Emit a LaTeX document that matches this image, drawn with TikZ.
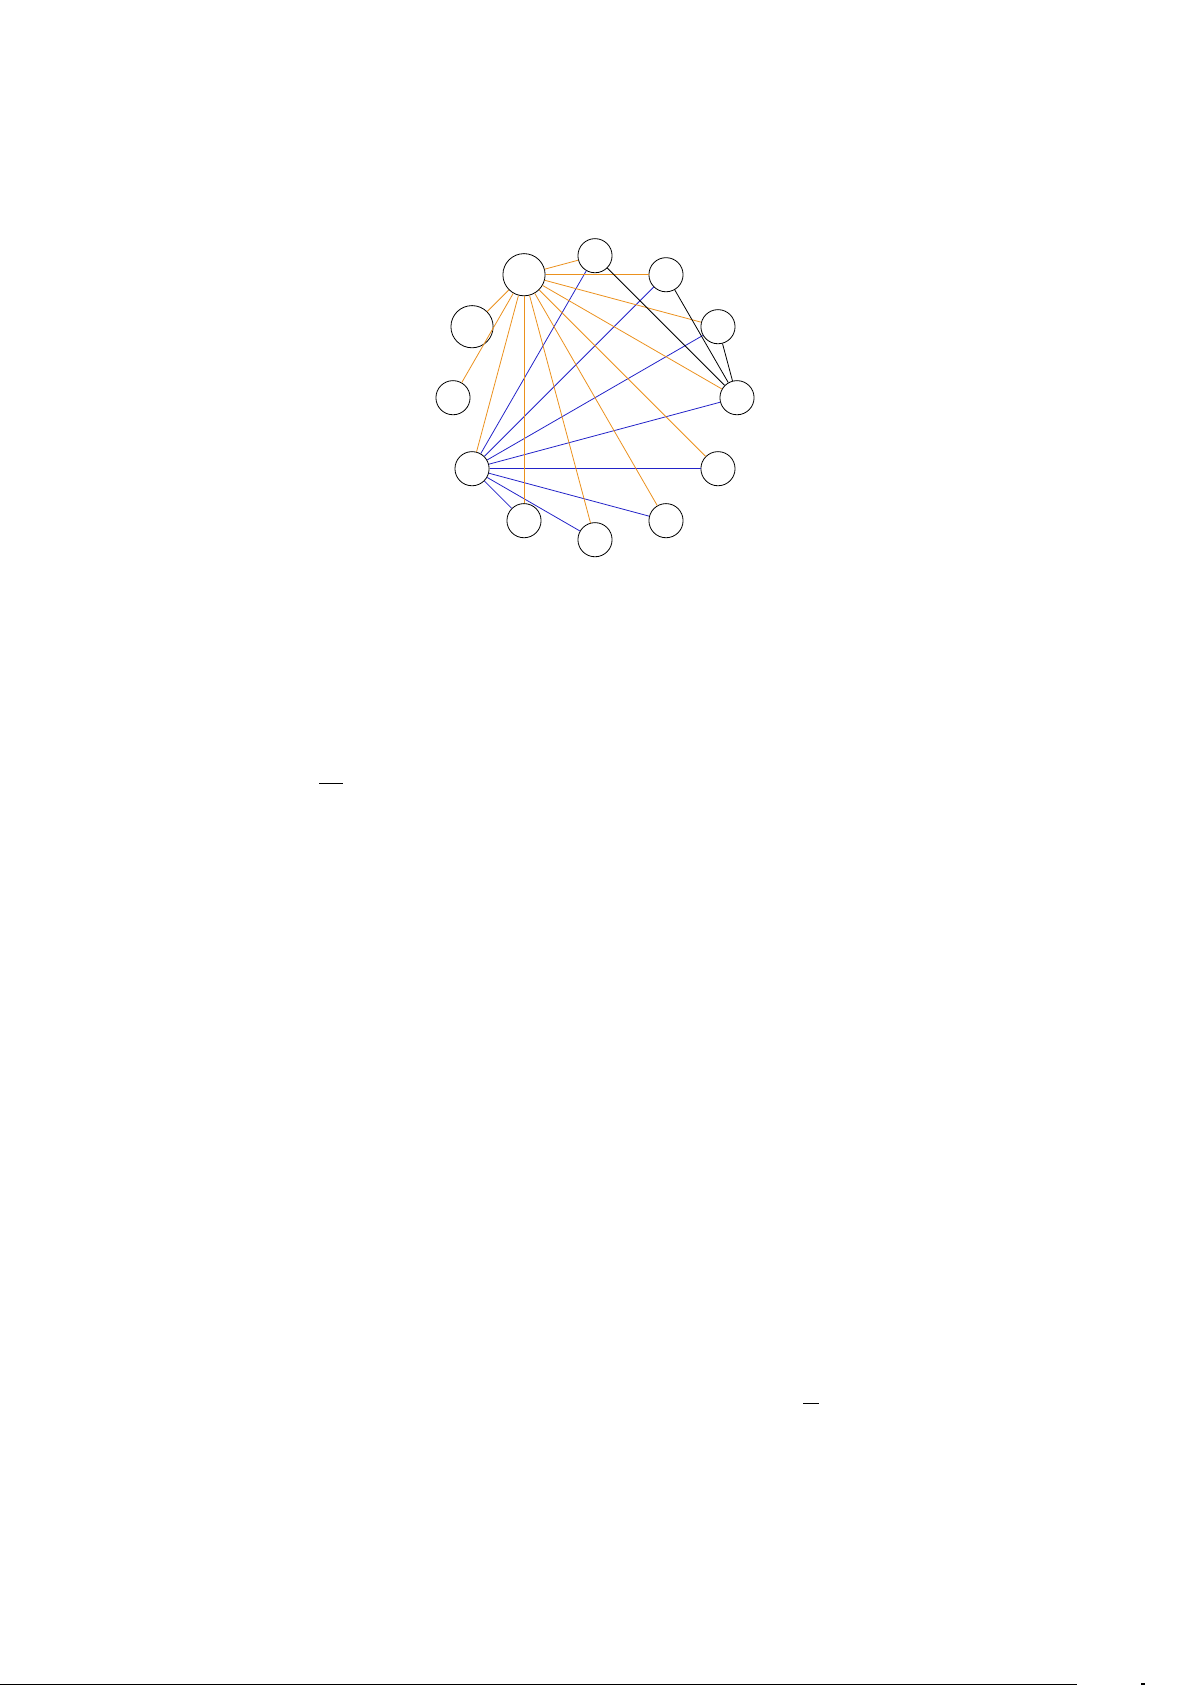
\documentclass[tikz,border=0pt]{standalone}
\usetikzlibrary{calc}
\definecolor{edgeorange}{RGB}{235,145,30}
\definecolor{edgeblue}{RGB}{35,35,200}
\begin{document}
\begin{tikzpicture}[x=1pt,y=1pt,
  vtx/.style={circle,draw=black,line width=0.4pt,minimum size=0.6cm,inner sep=0pt},
  bigvtx/.style={circle,draw=black,line width=0.4pt,minimum size=21.1pt,inner sep=0pt},
  oedge/.style={draw=edgeorange,line width=0.4pt},
  bedge/.style={draw=edgeblue,line width=0.4pt},
  kedge/.style={draw=black,line width=0.4pt},
  rulebar/.style={draw=black,line width=0.5pt}]
\useasboundingbox (0,0) rectangle (596,-842.5);
\coordinate (ctr) at (297.5,-198.85);
% vertices on a circle of radius 71pt
\node[vtx]    (n0)  at ($(ctr)+(0:71)$)   {};
\node[vtx]    (n1)  at ($(ctr)+(30:71)$)  {};
\node[vtx]    (n2)  at ($(ctr)+(60:71)$)  {};
\node[vtx]    (n3)  at ($(ctr)+(90:71)$)  {};
\node[bigvtx] (n4)  at ($(ctr)+(120:71)$) {};
\node[bigvtx] (n5)  at ($(ctr)+(150:71)$) {};
\node[vtx]    (n6)  at ($(ctr)+(180:71)$) {};
\node[vtx]    (n7)  at ($(ctr)+(210:71)$) {};
\node[vtx]    (n8)  at ($(ctr)+(240:71)$) {};
\node[vtx]    (n9)  at ($(ctr)+(270:71)$) {};
\node[vtx]    (n10) at ($(ctr)+(300:71)$) {};
\node[vtx]    (n11) at ($(ctr)+(330:71)$) {};
% blue edges
\foreach \t in {3,2,1,0,11,10,9,8} \path[bedge] (n7) -- (n\t);
% orange edges
\foreach \t in {3,2,1,0,11,10,9,8,7,6,5} \path[oedge] (n4) -- (n\t);
% black edges
\foreach \t in {3,2,1} \path[kedge] (n\t) -- (n0);
% stray rules of the page
\coordinate (r1a) at (159.5,-391.6);
\coordinate (r1b) at (171.4,-391.6);
\draw[rulebar] (r1a) -- (r1b);
\coordinate (r2a) at (401.5,-701.6);
\coordinate (r2b) at (409.5,-701.6);
\draw[rulebar] (r2a) -- (r2b);
\coordinate (r3a) at (0,-842);
\coordinate (r3b) at (538.5,-842);
\draw[rulebar] (r3a) -- (r3b);
\fill[black] (570.6,-841.5) rectangle (572.4,-842.5);
\end{tikzpicture}
\end{document}
